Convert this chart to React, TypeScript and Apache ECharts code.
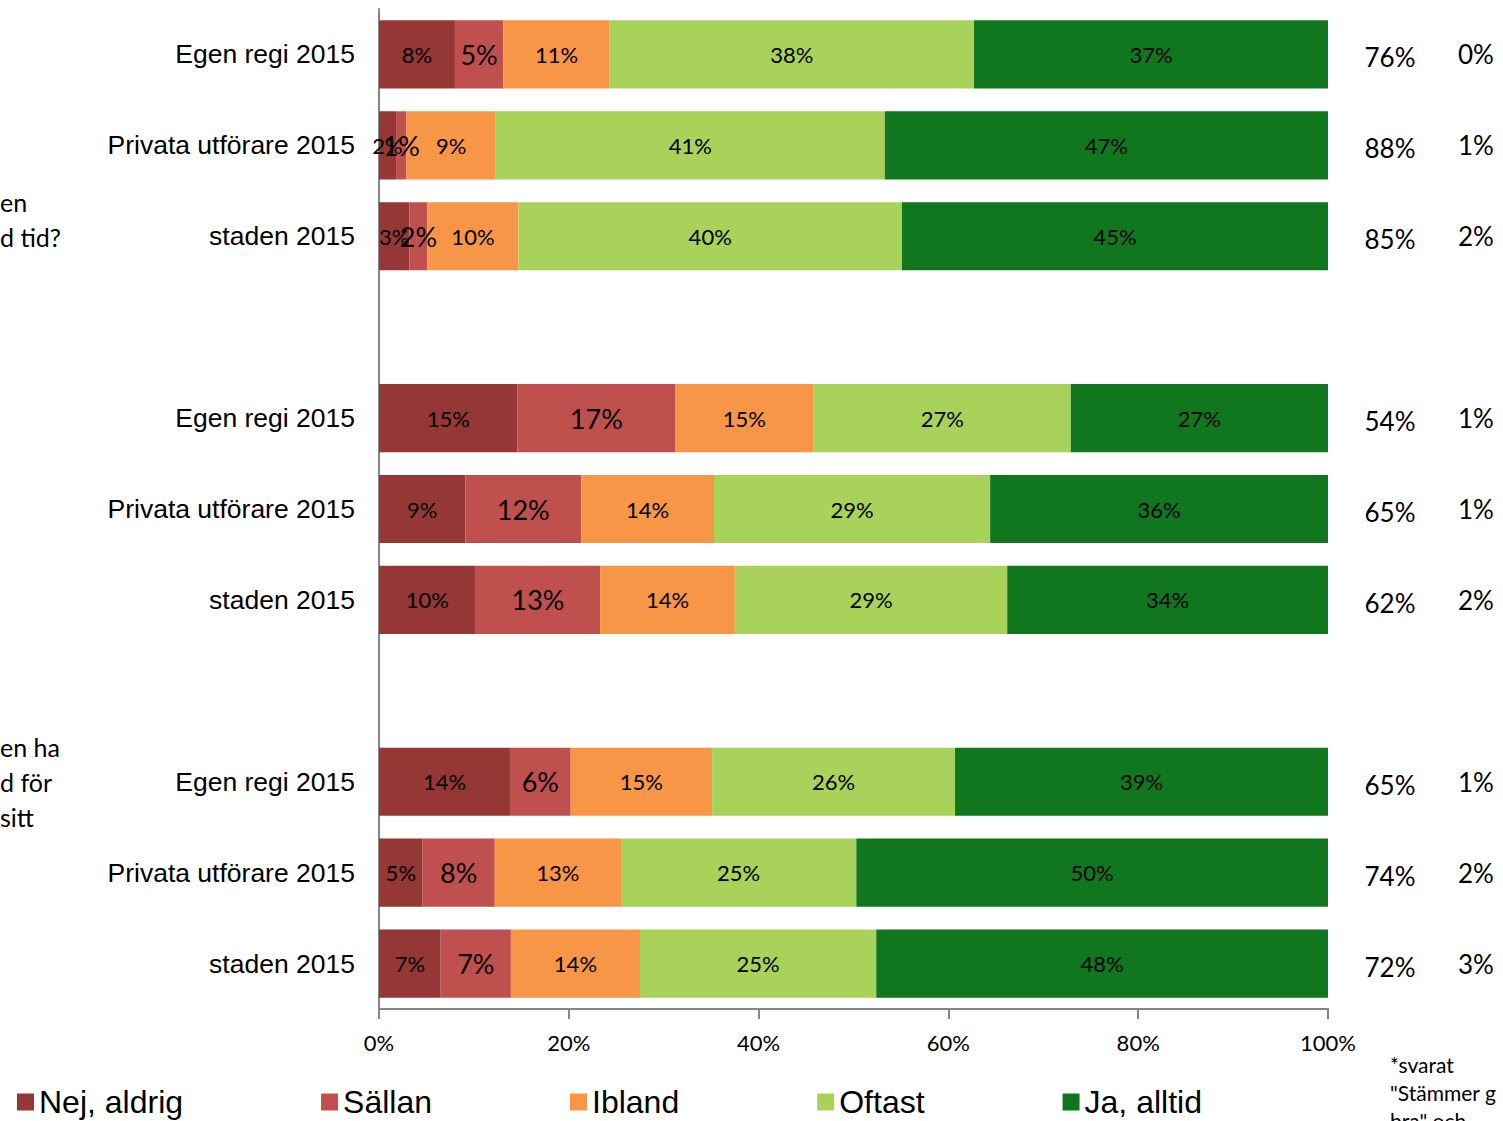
import React, { useEffect, useRef } from "react";
import * as echarts from "echarts";

// Rows (top to bottom); "" marks the gap between question groups
const categories = [
  "Egen regi 2015", "Privata utförare 2015", "staden 2015", "",
  "Egen regi 2015", "Privata utförare 2015", "staden 2015", "",
  "Egen regi 2015", "Privata utförare 2015", "staden 2015",
];

const seriesNames = ["Nej, aldrig", "Sällan", "Ibland", "Oftast", "Ja, alltid"];
const seriesColors = ["#953735", "#C0504D", "#F79646", "#A8D25A", "#10771E"];

// Values per bar (9 bars, in row order, gaps excluded), percent
const nejAldrig = [8.0, 1.8, 3.2, 14.6, 9.1, 10.2, 13.8, 4.6, 6.5];
const sallan = [5.1, 1.1, 1.9, 16.6, 12.2, 13.1, 6.4, 7.6, 7.4];
const ibland = [11.2, 9.4, 9.6, 14.6, 14.0, 14.2, 14.9, 13.3, 13.6];
const oftast = [38.4, 41.0, 40.4, 27.1, 29.1, 28.7, 25.6, 24.8, 24.9];
const jaAlltid = [37.3, 46.7, 44.9, 27.1, 35.6, 33.8, 39.3, 49.7, 47.6];

// Right-hand annotation columns
const positiveTotal = [76, 88, 85, 54, 65, 62, 65, 74, 72];
const secondColumn = [0, 1, 2, 1, 1, 2, 1, 2, 3];

const xTicks = [0, 20, 40, 60, 80, 100];

const leftNoteGroup1 = ["en", "d tid?"];
const leftNoteGroup3 = ["en ha", "d för", "sitt"];
const footNote = ["*svarat", "\"Stämmer g", "bra\" och"];

function withGaps(values: number[]): (number | string)[] {
  const out: (number | string)[] = [];
  let k = 0;
  categories.forEach((c) => {
    if (c === "") out.push("-");
    else out.push(values[k++]);
  });
  return out;
}

function barIndexOf(rowIndex: number): number {
  let k = -1;
  for (let i = 0; i <= rowIndex; i++) if (categories[i] !== "") k++;
  return categories[rowIndex] === "" ? -1 : k;
}

export default function App() {
  const ref = useRef<HTMLDivElement>(null);

  useEffect(() => {
    if (!ref.current) return;
    const chart = echarts.init(ref.current, null, { renderer: "svg" });
    const allValues = [nejAldrig, sallan, ibland, oftast, jaAlltid];
    const labelFont = "Lato, 'Open Sans', sans-serif";

    const series = seriesNames.map((name, i) => ({
      name,
      type: "bar",
      stack: "total",
      barCategoryGap: "25%",
      itemStyle: { color: seriesColors[i] },
      label: {
        show: true,
        position: "inside",
        color: "#000",
        fontFamily: labelFont,
        fontSize: i === 1 ? 27 : 22,
        formatter: (p: any) => Math.round(p.value) + "%",
      },
      data: withGaps(allValues[i]),
    }));

    chart.setOption({
      animation: false,
      backgroundColor: "#fff",
      grid: { left: 379, right: 175, top: 9, height: 1000, containLabel: false },
      legend: {
        data: seriesNames,
        left: 12,
        top: 1081,
        itemWidth: 17,
        itemHeight: 17,
        itemGap: 138,
        icon: "rect",
        textStyle: {
          fontFamily: "'Liberation Sans', Arial, sans-serif",
          fontSize: 32,
          color: "#000",
        },
      },
      xAxis: {
        type: "value",
        min: xTicks[0],
        max: xTicks[xTicks.length - 1],
        interval: xTicks[1] - xTicks[0],
        splitLine: { show: false },
        axisLine: { show: true, lineStyle: { color: "#868686", width: 2 } },
        axisTick: { show: true, length: 10, lineStyle: { color: "#868686", width: 2 } },
        axisLabel: {
          margin: 22,
          color: "#000",
          fontFamily: labelFont,
          fontSize: 22,
          formatter: "{value}%",
        },
      },
      yAxis: [
        {
          type: "category",
          inverse: true,
          data: categories,
          axisLine: { show: true, lineStyle: { color: "#868686", width: 2 } },
          axisTick: { show: false },
          axisLabel: {
            interval: 0,
            margin: 24,
            color: "#000",
            fontFamily: "'Liberation Sans', Arial, sans-serif",
            fontSize: 26.5,
          },
        },
        {
          type: "category",
          inverse: true,
          position: "right",
          data: categories,
          axisLine: { show: false },
          axisTick: { show: false },
          axisLabel: {
            interval: 0,
            margin: 9,
            formatter: (_v: string, idx: number) => {
              const b = barIndexOf(idx);
              if (b < 0) return "";
              return `{a|${positiveTotal[b]}%}{b|${secondColumn[b]}%}`;
            },
            rich: {
              a: {
                width: 106,
                align: "center",
                fontFamily: labelFont,
                fontSize: 26,
                color: "#000",
                padding: [6, 0, 0, 0],
              },
              b: {
                width: 66,
                align: "center",
                fontFamily: labelFont,
                fontSize: 26,
                color: "#000",
              },
            },
          },
        },
      ],
      series,
      graphic: [
        {
          type: "text",
          left: 0,
          top: 184,
          style: {
            text: leftNoteGroup1.join("\n"),
            fontFamily: labelFont,
            fontSize: 25,
            lineHeight: 35,
            fill: "#000",
          },
        },
        {
          type: "text",
          left: 0,
          top: 729,
          style: {
            text: leftNoteGroup3.join("\n"),
            fontFamily: labelFont,
            fontSize: 25,
            lineHeight: 35,
            fill: "#000",
          },
        },
        {
          type: "text",
          left: 1390,
          top: 1050,
          style: {
            text: footNote.join("\n"),
            fontFamily: labelFont,
            fontSize: 21,
            lineHeight: 28,
            fill: "#000",
          },
        },
      ],
    });

    return () => chart.dispose();
  }, []);

  return (
    <div
      ref={ref}
      style={{ position: "absolute", left: 0, top: 0, width: 1503, height: 1121 }}
    />
  );
}
